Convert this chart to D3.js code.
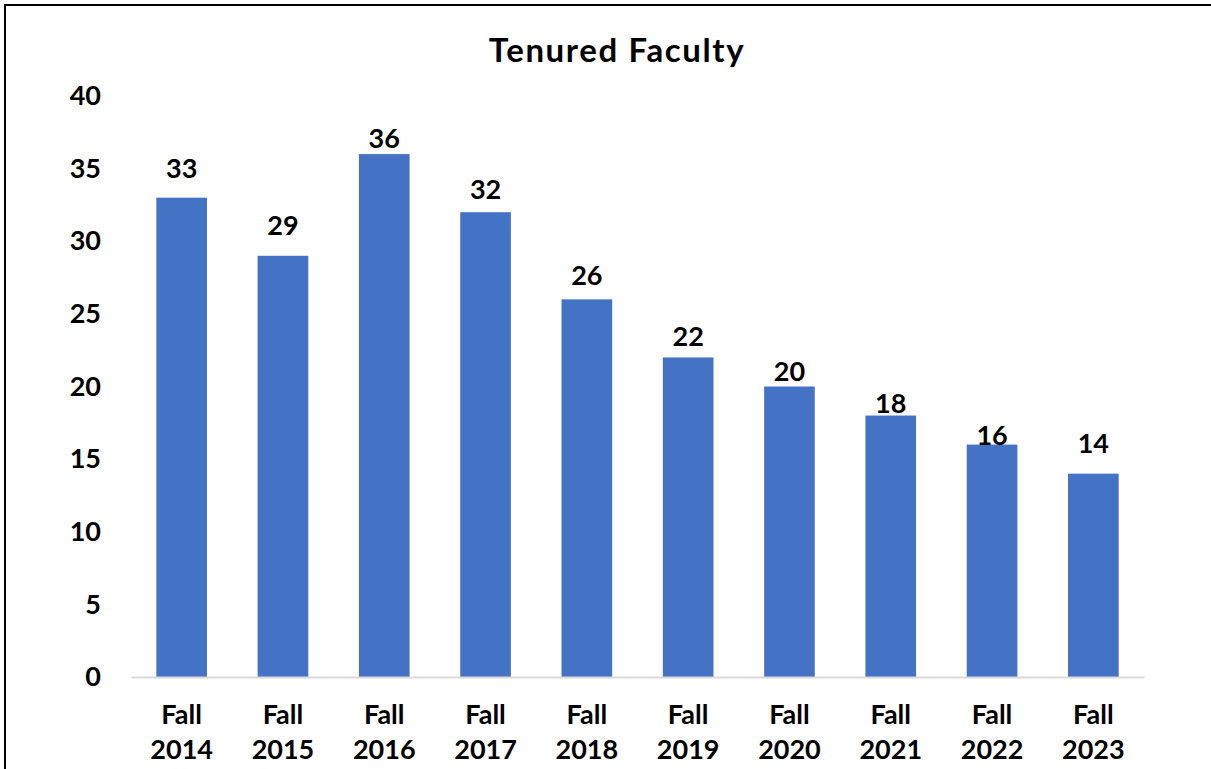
<!DOCTYPE html>
<html>
<head>
<meta charset="utf-8">
<script src="https://cdn.jsdelivr.net/npm/d3@7"></script>
<style>
  body { margin: 0; background: #fff; }
  svg { display: block; font-family: Lato, "Open Sans", sans-serif; font-weight: bold; }
</style>
</head>
<body>
<svg id="chart"></svg>
<script>
var width = 1211;
var height = 769;

var categories = ["Fall 2014", "Fall 2015", "Fall 2016", "Fall 2017", "Fall 2018",
                  "Fall 2019", "Fall 2020", "Fall 2021", "Fall 2022", "Fall 2023"];
var tenured = [33, 29, 36, 32, 26, 22, 20, 18, 16, 14];
var yTicks = [0, 5, 10, 15, 20, 25, 30, 35, 40];

// labels were hand-placed in the original, gap between bar top and label baseline (px)
var labelGap = [20, 21, 6, 13, 14, 11, 6, 3, 0, 21];

var plotLeft = 131, plotRight = 1144, plotTop = 96, plotBottom = 677;

var svg = d3.select("#chart")
    .attr("width", width)
    .attr("height", height);

// outer frame, runs off the right and bottom edges
svg.append("rect")
    .attr("x", 5).attr("y", 5)
    .attr("width", width + 20).attr("height", height + 20)
    .attr("fill", "white")
    .attr("stroke", "black")
    .attr("stroke-width", 2);

var xScale = d3.scaleBand()
    .domain(categories)
    .range([plotLeft, plotRight])
    .paddingInner(0.5)
    .paddingOuter(0.25);

var yScale = d3.scaleLinear()
    .domain([0, 40])
    .range([plotBottom, plotTop]);

svg.append("text")
    .attr("x", 617).attr("y", 62)
    .attr("text-anchor", "middle")
    .attr("font-size", 33)
    .attr("letter-spacing", 1.6)
    .text("Tenured Faculty");

var yAxis = d3.axisLeft(yScale)
    .tickValues(yTicks)
    .tickSize(0)
    .tickPadding(0);

var gy = svg.append("g")
    .attr("transform", "translate(101,0)")
    .call(yAxis);
gy.attr("font-family", null);
gy.select(".domain").remove();
gy.selectAll("text")
    .attr("font-size", 27)
    .attr("fill", "black");

svg.selectAll("rect.bar")
  .data(tenured)
  .enter()
  .append("rect")
    .attr("class", "bar")
    .attr("x", (d, i) => xScale(categories[i]))
    .attr("y", d => yScale(d))
    .attr("width", xScale.bandwidth())
    .attr("height", d => yScale(0) - yScale(d))
    .attr("fill", "#4472C4");

svg.selectAll("text.label")
  .data(tenured)
  .enter()
  .append("text")
    .attr("class", "label")
    .attr("x", (d, i) => xScale(categories[i]) + xScale.bandwidth() / 2)
    .attr("y", (d, i) => yScale(d) - labelGap[i])
    .attr("text-anchor", "middle")
    .attr("font-size", 27)
    .text(d => d);

var xAxis = d3.axisBottom(xScale)
    .tickSize(0)
    .tickSizeOuter(0)
    .tickPadding(0);

var gx = svg.append("g")
    .attr("transform", "translate(0," + plotBottom + ")")
    .call(xAxis);
gx.attr("font-family", null);
gx.select(".domain")
    .attr("stroke", "#D9D9D9")
    .attr("stroke-width", 2);
gx.selectAll("text").remove();
gx.selectAll(".tick").append("text")
    .attr("text-anchor", "middle")
    .attr("font-size", 27)
    .attr("fill", "black")
    .selectAll("tspan")
    .data(d => d.split(" "))
    .enter()
    .append("tspan")
      .attr("x", 0)
      .attr("y", (d, i) => 47 + i * 35)
      .text(d => d);
</script>
</body>
</html>
